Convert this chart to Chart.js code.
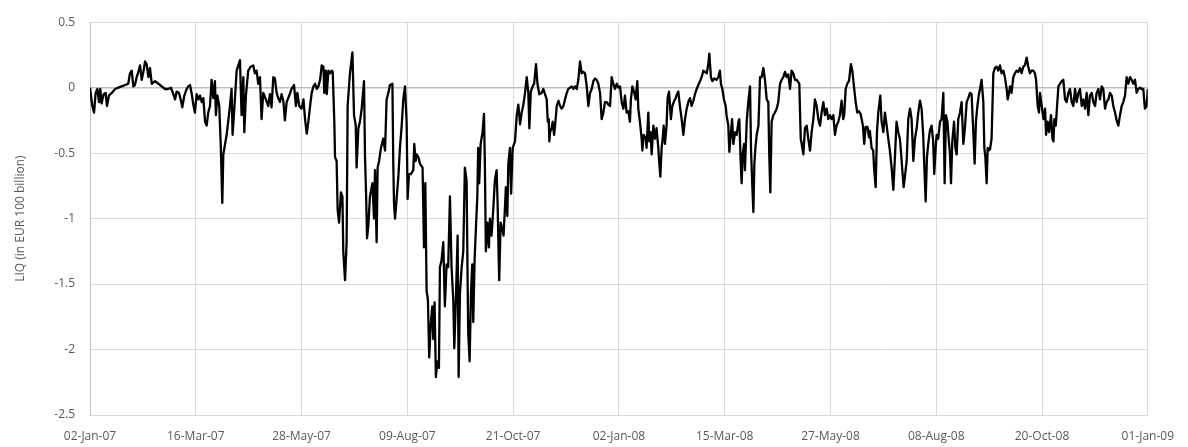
<!DOCTYPE html>
<html>
<head>
<meta charset="utf-8">
<title>LIQ</title>
<script src="https://cdn.jsdelivr.net/npm/chart.js@4.4.1/dist/chart.umd.min.js"></script>
<style>
  html, body { margin: 0; padding: 0; background: #fff; }
  #wrap { width: 1188px; height: 447px; }
</style>
</head>
<body>
<div id="wrap"><canvas id="chart" width="1188" height="447"></canvas></div>
<script>
// x axis: days since 02-Jan-07, one tick every 73 days
const tickLabels = ['02-Jan-07', '16-Mar-07', '28-May-07', '09-Aug-07', '21-Oct-07', '02-Jan-08',
  '15-Mar-08', '27-May-08', '08-Aug-08', '20-Oct-08', '01-Jan-09'];
const tickStep = 73;

const days = [
  0, 1.6, 2.8, 3.9, 5.1, 6.2, 7.1, 8.0, 9.4, 10.8, 11.7, 13.1, 15.0, 17.3, 19.5, 21.8, 24.2, 26.4, 27.6, 28.8,
  29.9, 31.0, 32.2, 33.4, 34.5, 35.7, 36.8, 38.0, 39.1, 40.3, 41.4, 42.6, 44.9, 47.2, 49.5, 51.8, 54.0, 55.9,
  57.5, 58.7, 59.8, 61.4, 62.8, 63.7, 65.1, 66.7, 67.8, 69.0, 70.1, 71.3, 72.4,
  73.6, 74.8, 75.9, 77.1, 78.2, 79.4, 80.5, 81.6, 82.8, 83.9, 85.1, 86.2, 86.9, 87.9, 89.2, 90.2, 91.3, 92.0,
  94.3, 96.6, 97.7, 98.4, 100.0, 101.2, 103.5, 104.6, 105.8, 106.5, 107.6, 109.2, 110.9, 112.7, 113.8, 115.0,
  116.1, 117.3, 118.4, 119.6, 121.4, 123.0, 124.2, 125.3, 126.5, 127.6, 128.8, 129.9, 131.1, 132.2, 133.4,
  134.5, 135.7, 137.5, 139.1, 140.8, 142.1, 143.1, 144.4, 146.0,
  147.3, 148.4, 149.6, 150.7, 151.9, 153.0, 154.2, 155.3, 156.5, 157.6, 158.8, 159.9, 161.1, 161.7, 162.7,
  163.4, 164.5, 165.7, 166.8, 167.5, 168.6, 169.1, 170.2, 170.9, 171.9, 173.2, 174.2, 174.8, 176.0, 177.1,
  177.8, 179.4, 181.1, 182.2, 183.4, 184.0, 185.2, 186.3, 187.5, 189.1, 189.8, 190.5, 191.2, 192.1, 193.2,
  194.9, 196.0, 196.7, 197.8, 198.5, 199.5, 200.8, 202.4, 203.6, 204.7, 205.9, 207.0, 208.7, 209.3, 209.8,
  210.5, 211.6, 212.8, 213.9, 215.1, 216.2, 217.4,
  218.5, 219.2, 220.1, 221.5, 223.1, 223.8, 224.7, 225.4, 226.6, 227.7, 229.5, 230.5, 231.4, 232.3, 233.2,
  234.1, 235.1, 236.2, 236.9, 237.8, 238.7, 239.7, 240.8, 241.5, 242.6, 243.8, 244.9, 246.1, 247.2, 248.4,
  249.5, 250.7, 251.4, 252.5, 253.7, 254.4, 255.3, 256.5, 257.6, 258.7, 259.9, 260.6, 261.0, 262.0, 262.9,
  263.8, 264.5, 265.4, 266.3, 267.3, 267.9, 268.6, 269.6, 270.9, 271.9, 272.5, 273.2, 274.2, 275.3, 276.0,
  277.1, 278.3, 279.4, 280.6, 281.3, 282.0, 282.4, 283.4, 284.5, 285.4, 286.3, 287.0, 288.0, 288.7, 289.8,
  290.6, 291.7, 293.3, 294.5, 295.6, 296.8, 297.9, 299.1, 300.2, 301.4, 302.5, 303.2, 304.2, 305.5, 306.5,
  307.8, 308.8, 310.1, 311.7, 312.9, 314.0, 315.2, 315.9, 316.6, 317.0, 317.5, 318.6, 319.3, 320.3, 321.2,
  322.1, 323.3, 324.4, 325.5, 326.7, 327.8, 329.0, 330.1, 331.3, 332.4, 333.6, 334.7, 335.9, 337.0, 338.2,
  339.3, 340.5, 341.6, 342.8, 343.9, 345.1, 346.2, 347.4, 348.5, 349.7, 350.8, 352.0, 353.1, 354.3, 355.4,
  356.6, 357.7, 358.9, 360.0, 361.2, 362.3, 363.5, 364.6, 365.8, 366.9, 368.1,
  369.2, 370.3, 371.5, 372.6, 373.3, 374.3, 375.4, 376.6, 377.7, 378.4, 379.5, 380.7, 381.2, 382.1, 383.5,
  384.1, 385.3, 386.0, 386.9, 387.6, 388.8, 389.9, 391.0, 392.2, 392.9, 393.6, 394.5, 395.2, 395.9, 396.8,
  397.9, 398.6, 399.6, 400.9, 401.9, 403.2, 404.2, 405.1, 406.0, 407.1, 408.3, 409.5, 410.6, 411.8, 412.9,
  414.1, 415.2, 416.4, 417.5, 418.7, 419.8, 421.0, 422.1, 423.3, 424.4, 425.6, 426.7, 427.4, 428.5, 429.5,
  430.8, 432.4, 433.6, 434.7, 435.4, 436.4, 437.5, 438.7, 439.3, 440.5, 441.2,
  443.1, 444.0, 445.2, 446.3, 447.5, 448.1, 449.1, 449.7, 450.4, 451.4, 452.0, 453.2, 454.3, 455.5, 456.2,
  457.1, 457.8, 458.5, 459.2, 460.1, 461.3, 462.4, 463.5, 464.7, 465.8, 467.0, 468.1, 468.8, 469.5, 470.4,
  471.6, 472.7, 473.9, 475.0, 476.2, 477.3, 478.5, 479.6, 480.8, 481.9, 483.1, 484.2, 485.4, 486.5, 487.7,
  489.5, 490.5, 491.2, 492.3, 493.4, 494.6, 495.7, 496.9, 498.0, 499.2, 500.3, 501.5, 502.6, 503.8, 504.9,
  506.1, 507.2, 508.4, 509.5, 510.7, 511.8,
  513.0, 514.1, 515.2, 516.4, 517.5, 518.7, 519.8, 520.5, 521.5, 522.6, 523.8, 525.1, 526.1, 527.2, 528.4,
  529.5, 530.7, 531.8, 532.5, 533.4, 534.3, 535.3, 536.6, 537.6, 538.2, 539.4, 540.5, 541.2, 542.2, 543.1,
  544.0, 545.4, 546.3, 547.5, 548.6, 549.8, 550.9, 552.0, 553.2, 554.4, 555.5, 556.6, 557.8, 558.9, 559.6,
  560.6, 561.5, 562.4, 563.6, 564.7, 565.9, 567.0, 568.2, 569.3, 570.5, 571.6, 572.8, 573.9, 575.0, 575.7,
  576.7, 577.6, 578.5, 579.6, 580.8, 581.9, 582.6, 583.8,
  584.3, 585.4, 586.6, 587.7, 588.9, 589.8, 590.7, 591.7, 592.6, 593.5, 594.2, 595.1, 596.3, 597.2, 598.1,
  599.2, 600.4, 601.5, 602.7, 603.8, 605.0, 606.1, 607.3, 608.4, 609.6, 610.5, 611.4, 612.4, 613.3, 614.2,
  615.3, 616.5, 617.2, 617.9, 618.8, 619.5, 620.2, 621.1, 622.2, 623.4, 624.5, 625.7, 626.8, 628.0, 629.1,
  630.3, 631.4, 632.6, 633.3, 634.2, 634.9, 636.0, 637.2, 638.3, 639.5, 640.6, 641.8, 642.9, 644.1, 645.2,
  646.4, 647.5, 648.7, 649.8, 651.0, 652.1,
  652.9, 654.0, 654.9, 655.6, 656.8, 658.0, 659.1, 659.8, 660.9, 661.9, 663.2, 664.2, 664.9, 665.5, 666.5,
  667.1, 668.3, 669.4, 670.6, 671.7, 672.9, 674.0, 675.2, 676.3, 677.5, 678.6, 679.8, 680.9, 682.1, 683.2,
  684.4, 685.5, 686.7, 687.8, 689.0, 690.1, 691.3, 692.4, 693.6, 694.7, 695.9, 697.0, 698.2, 699.3, 700.5,
  701.6, 702.8, 703.9, 705.1, 706.2, 707.4, 708.5, 709.7, 710.8, 712.0, 713.1, 714.3, 715.4, 716.6, 717.7,
  718.9, 720.0, 721.2, 722.3, 723.5, 724.6, 725.8, 726.9, 728.0, 729.2, 730
];

const liq = [
  0.00, -0.14, -0.19, -0.04, -0.01, -0.11, -0.01, -0.12, -0.05, -0.04, -0.14, -0.06, -0.04, -0.01, 0.00, 0.01, 0.02, 0.03, 0.11, 0.13,
  0.01, 0.02, 0.08, 0.12, 0.17, 0.06, 0.12, 0.20, 0.18, 0.08, 0.15, 0.03, 0.05, 0.03, 0.01, -0.01, -0.01, 0.00,
  -0.05, -0.09, -0.03, -0.04, -0.10, -0.15, -0.06, -0.01, 0.01, 0.02, -0.04, -0.13, -0.19,
  -0.05, -0.09, -0.06, -0.11, -0.08, -0.26, -0.29, -0.19, -0.14, 0.06, -0.08, 0.05, -0.21, -0.06, -0.14, -0.43, -0.88, -0.51,
  -0.36, -0.14, -0.01, -0.36, -0.09, 0.13, 0.21, -0.21, 0.08, -0.34, -0.06, 0.13, 0.16, 0.17, 0.11, 0.13,
  0.03, 0.08, -0.24, -0.04, -0.09, -0.14, -0.05, -0.15, 0.08, 0.07, -0.04, -0.08, -0.11, -0.05, -0.10,
  -0.25, -0.11, -0.06, -0.01, 0.02, -0.14, -0.04, -0.14, -0.16,
  -0.09, -0.24, -0.35, -0.26, -0.14, -0.04, 0.01, 0.03, -0.01, 0.01, 0.06, 0.17, 0.16, -0.04, 0.13,
  -0.05, 0.13, 0.11, 0.13, 0.12, -0.26, -0.53, -0.56, -0.93, -1.03, -0.80, -0.83, -1.25, -1.47, -1.18,
  -0.14, 0.11, 0.27, -0.21, -0.29, -0.61, -0.31, -0.26, -0.16, 0.05, -0.53, -0.80, -1.15, -1.05, -0.83,
  -0.73, -1.00, -0.63, -1.18, -0.61, -0.56, -0.46, -0.39, -0.48, -0.09, -0.04, 0.02, 0.03, -0.58, -0.88,
  -1.00, -0.85, -0.68, -0.46, -0.29, -0.09, 0.01,
  -0.26, -0.85, -0.66, -0.66, -0.63, -0.43, -0.56, -0.51, -0.53, -0.58, -0.61, -1.22, -0.73, -1.55, -1.62,
  -2.06, -1.82, -1.67, -1.92, -1.64, -2.21, -2.09, -2.14, -1.37, -1.32, -1.18, -1.67, -1.35, -1.37, -0.83,
  -1.37, -1.62, -1.99, -1.62, -1.13, -2.21, -1.57, -1.37, -1.25, -0.61, -0.71, -1.47, -1.87, -2.09, -1.57,
  -1.35, -1.79, -1.32, -1.08, -0.83, -0.46, -0.73, -0.43, -0.34, -0.20, -0.58, -1.25, -1.03, -1.22, -1.00,
  -1.13, -0.93, -0.71, -0.63, -0.88, -1.27, -1.47, -1.03, -1.08, -1.13, -0.93, -0.76, -0.98, -0.58, -0.46,
  -0.81, -0.46, -0.41, -0.21, -0.13, -0.28, -0.19, -0.13, -0.04, 0.08, -0.04, -0.31, -0.03, 0.01, 0.03,
  0.18, 0.03, -0.05, -0.04, -0.01, -0.05, -0.09, -0.26, -0.24, -0.41, -0.34, -0.31, -0.26, -0.36, -0.26,
  -0.14, -0.10, -0.14, -0.16, -0.14, -0.09, -0.04, -0.01, 0.00, 0.01, -0.01, 0.01, -0.01, 0.06, 0.20,
  0.11, 0.12, 0.11, 0.01, -0.14, -0.04, -0.01, 0.05, 0.07, 0.06, 0.03, -0.04, -0.24, -0.19, -0.11,
  -0.11, -0.13, -0.14, 0.08, 0.03, -0.01, 0.03, 0.00, 0.01, -0.11, -0.16,
  -0.06, -0.19, -0.18, -0.26, -0.09, 0.01, -0.03, -0.09, 0.05, -0.16, -0.26, -0.39, -0.48, -0.36, -0.39,
  -0.46, -0.19, -0.41, -0.34, -0.51, -0.29, -0.39, -0.31, -0.46, -0.58, -0.68, -0.46, -0.39, -0.29, -0.43,
  -0.29, -0.08, -0.03, -0.24, -0.14, -0.10, -0.08, -0.05, -0.03, -0.14, -0.24, -0.36, -0.24, -0.16, -0.11,
  -0.08, -0.14, -0.10, -0.05, -0.01, 0.02, 0.05, 0.08, 0.13, 0.12, 0.11, 0.18, 0.26, 0.08, 0.05,
  0.07, 0.06, 0.08, 0.13, 0.03, -0.01, -0.09, -0.14, -0.21, -0.29, -0.49,
  -0.24, -0.43, -0.34, -0.36, -0.26, -0.24, -0.58, -0.73, -0.51, -0.43, -0.63, -0.26, -0.11, 0.01, -0.48,
  -0.76, -0.95, -0.58, -0.46, -0.36, -0.29, 0.08, 0.08, 0.15, 0.06, -0.09, -0.11, -0.53, -0.80, -0.26,
  -0.21, -0.19, -0.16, -0.11, 0.03, 0.06, 0.08, 0.12, 0.08, 0.10, -0.01, 0.13, 0.11, 0.06, 0.06,
  0.03, -0.39, -0.43, -0.51, -0.31, -0.29, -0.39, -0.48, -0.34, -0.24, -0.09, -0.14, -0.24, -0.29, -0.19,
  -0.11, -0.21, -0.16, -0.24, -0.21, -0.24,
  -0.21, -0.36, -0.29, -0.26, -0.21, -0.10, -0.24, -0.21, -0.01, 0.03, 0.05, 0.18, 0.13, 0.01, -0.11,
  -0.19, -0.18, -0.20, -0.24, -0.29, -0.43, -0.30, -0.30, -0.38, -0.33, -0.46, -0.48, -0.63, -0.76, -0.34,
  -0.19, -0.06, -0.26, -0.34, -0.19, -0.29, -0.39, -0.48, -0.61, -0.78, -0.53, -0.26, -0.34, -0.39, -0.48,
  -0.63, -0.76, -0.68, -0.56, -0.24, -0.16, -0.24, -0.56, -0.39, -0.31, -0.19, -0.10, -0.16, -0.36, -0.58,
  -0.87, -0.53, -0.43, -0.33, -0.29, -0.41, -0.66, -0.43,
  -0.36, -0.39, -0.26, -0.24, -0.04, -0.73, -0.21, -0.26, -0.39, -0.51, -0.73, -0.41, -0.26, -0.46, -0.51,
  -0.24, -0.19, -0.11, -0.43, -0.31, -0.11, -0.08, -0.04, -0.05, -0.34, -0.58, -0.26, -0.14, -0.06, -0.01,
  0.06, -0.11, -0.46, -0.53, -0.73, -0.46, -0.48, -0.47, -0.39, 0.11, 0.15, 0.16, 0.13, 0.17, 0.11,
  0.13, 0.08, -0.01, -0.09, -0.04, 0.01, -0.04, 0.08, 0.11, 0.13, 0.12, 0.15, 0.11, 0.16, 0.17,
  0.23, 0.16, 0.11, 0.13, 0.13, 0.11,
  0.06, -0.14, -0.19, -0.04, -0.14, -0.24, -0.16, -0.36, -0.26, -0.34, -0.21, -0.39, -0.41, -0.24, -0.29,
  -0.19, 0.01, 0.03, 0.05, 0.06, -0.09, -0.11, -0.04, -0.01, -0.11, -0.14, -0.01, -0.11, -0.04, -0.01,
  -0.14, -0.09, -0.16, -0.04, -0.21, -0.06, -0.04, -0.11, -0.14, -0.04, -0.01, -0.09, 0.01, -0.01, -0.16,
  -0.11, -0.09, -0.04, -0.06, -0.14, -0.19, -0.25, -0.29, -0.21, -0.14, -0.11, -0.06, 0.08, 0.03, 0.08,
  0.06, 0.03, 0.06, -0.04, -0.01, 0.00, -0.01, -0.01, -0.16, -0.14, -0.01
];

const yMin = -2.5, yMax = 0.5, yStep = 0.5;
const textColor = '#595959';
const font = { family: '"Open Sans", "Liberation Sans", sans-serif', size: 12 };

const points = days.map((d, i) => ({ x: d, y: liq[i] }));

new Chart(document.getElementById('chart'), {
  type: 'line',
  data: {
    datasets: [{
      label: 'LIQ',
      data: points,
      borderColor: '#000000',
      borderWidth: 2.3,
      borderJoinStyle: 'round',
      pointRadius: 0,
      tension: 0,
      fill: false
    }]
  },
  options: {
    responsive: false,
    animation: false,
    devicePixelRatio: 1,
    layout: { padding: { left: 0, right: 40, top: 10, bottom: 0 } },
    plugins: { legend: { display: false }, tooltip: { enabled: false } },
    scales: {
      x: {
        type: 'linear',
        min: 0,
        max: tickStep * (tickLabels.length - 1),
        afterBuildTicks: s => { s.ticks = tickLabels.map((_, i) => ({ value: i * tickStep })); },
        afterFit: s => { s.height = 32; },
        ticks: {
          autoSkip: false,
          maxRotation: 0,
          padding: 14,
          color: textColor,
          font,
          callback: v => tickLabels[Math.round(v / tickStep)]
        },
        grid: { color: '#d9d9d9', drawTicks: false },
        border: { color: '#d9d9d9' }
      },
      y: {
        min: yMin,
        max: yMax,
        afterFit: s => { s.width = 90; },
        ticks: {
          stepSize: yStep,
          padding: 15,
          color: textColor,
          font,
          callback: v => String(Math.round(v * 10) / 10)
        },
        grid: {
          color: c => (c.tick && c.tick.value === 0 ? '#bfbfbf' : '#d9d9d9'),
          lineWidth: c => (c.tick && c.tick.value === 0 ? 1.5 : 1),
          drawTicks: false
        },
        border: { color: '#bfbfbf' },
        title: {
          display: true,
          text: 'LIQ (in EUR 100 billion)',
          color: textColor,
          font,
          padding: { top: 13, bottom: 0 }
        }
      }
    }
  }
});
</script>
</body>
</html>
